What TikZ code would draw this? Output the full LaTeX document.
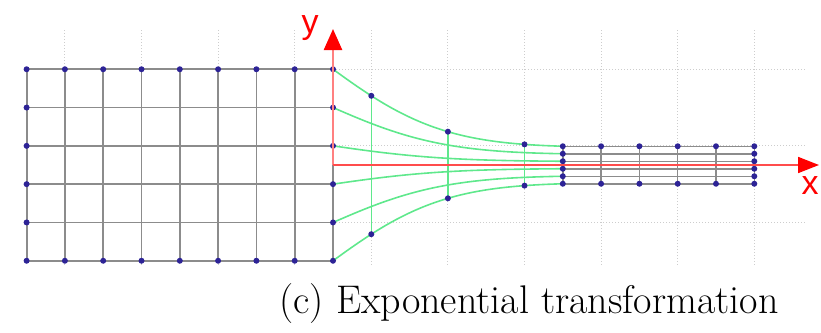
\documentclass[tikz,border=0pt]{standalone}
\usepackage{fontspec}
\newfontfamily\axisfont{Liberation Sans}
\usetikzlibrary{arrows.meta}
\definecolor{dotblue}{RGB}{45,35,150}
\definecolor{curvegreen}{RGB}{95,232,140}
\definecolor{gridgray}{RGB}{140,140,140}
\definecolor{bggray}{RGB}{205,205,205}
\begin{document}
\begin{tikzpicture}[x=1pt,y=-1pt,
  declare function={s(\t)=7.5+30.8*(exp(-0.356*\t-0.06*\t*\t)-0.0136)/0.9864;},
  gridline/.style={gridgray, line width=1.8pt},
  bggrid/.style={bggray, dotted, line width=1pt},
  curve/.style={curvegreen, line width=1.6pt},
  gdot/.style={fill=dotblue, draw=none},
  axislabel/.style={red, font=\axisfont\fontsize{34}{34}\selectfont, inner sep=0pt}]
\useasboundingbox (0,0) rectangle (821,332);
\coordinate (O) at (333,165);
\coordinate (ytip) at (333,29);
\coordinate (xtip) at (819,165);
% background dotted grid
\foreach \k in {-7,-5,-3,-1,1,3,5,7,9,11}
  \draw[bggrid] ({333+38.3*\k},30) -- ({333+38.3*\k},265);
\foreach \y in {69.25,145.85,222.45}
  \draw[bggrid] (27,\y) -- (805,\y);
% left grid
\foreach \k in {0,...,8}
  \draw[gridline] ({333-38.3*\k},69.25) -- ({333-38.3*\k},260.75);
\foreach \j in {0,...,5}
  \draw[gridline] (26.6,{69.25+38.3*\j}) -- (333,{69.25+38.3*\j});
% right grid
\foreach \r in {2.5,1.5,0.5,-0.5,-1.5,-2.5}
  \draw[gridline, line width=1.5pt] ({333+38.3*6},{165-\r*7.5}) -- ({333+38.3*11},{165-\r*7.5});
\foreach \t in {6,...,11}
  \draw[gridline, line width=1.5pt] ({333+38.3*\t},146.25) -- ({333+38.3*\t},183.75);
% green curves
\foreach \r in {2.5,1.5,0.5,-0.5,-1.5,-2.5}
  \draw[curve] plot[domain=0:6, samples=60, smooth] ({333+38.3*\x},{165-\r*s(\x)});
\foreach \t in {1,3,5}
  \draw[curve] ({333+38.3*\t},{165-2.5*s(\t)}) -- ({333+38.3*\t},{165+2.5*s(\t)});
% dots
\foreach \k in {0,...,8} {
  \fill[gdot] ({333-38.3*\k},69.25) circle (3);
  \fill[gdot] ({333-38.3*\k},260.75) circle (3);
}
\foreach \j in {1,...,4} {
  \fill[gdot] (26.6,{69.25+38.3*\j}) circle (3);
  \fill[gdot] (333,{69.25+38.3*\j}) circle (3);
}
\foreach \t in {1,3,5} {
  \fill[gdot] ({333+38.3*\t},{165-2.5*s(\t)}) circle (3);
  \fill[gdot] ({333+38.3*\t},{165+2.5*s(\t)}) circle (3);
}
\foreach \t in {7,...,10} {
  \fill[gdot] ({333+38.3*\t},146.25) circle (3);
  \fill[gdot] ({333+38.3*\t},183.75) circle (3);
}
\foreach \r in {2.5,1.5,0.5,-0.5,-1.5,-2.5} {
  \fill[gdot] ({333+38.3*6},{165-\r*7.5}) circle (3);
  \fill[gdot] ({333+38.3*11},{165-\r*7.5}) circle (3);
}
% axes
\draw[red!50, line width=2.4pt, -{Triangle[length=21pt,width=18pt,color=red]}] (O) -- (ytip);
\draw[red!70, line width=1.8pt, -{Triangle[length=21pt,width=16pt,color=red]}] (O) -- (xtip);
\node[axislabel] (ylab) at (310,28) {y};
\node[axislabel] (xlab) at (810,186) {x};
% caption
\node[font=\fontsize{40}{40}\selectfont, anchor=base, inner sep=0pt] (cap) at (529,313) {(c) Exponential transformation};
\end{tikzpicture}
\end{document}
